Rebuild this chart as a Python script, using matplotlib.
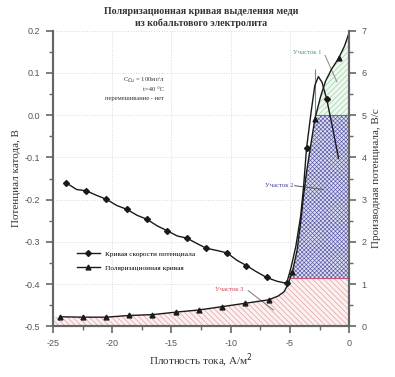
import matplotlib
matplotlib.use("Agg")
import matplotlib.pyplot as plt
import numpy as np
from matplotlib.lines import Line2D

plt.rcParams['font.family'] = ['Liberation Serif', 'DejaVu Serif']
plt.rcParams['hatch.linewidth'] = 0.45

# Поляризационная кривая (левая ось)
pol_x = [-24.4, -22.5, -20.5, -18.6, -16.6, -14.6, -12.7, -10.7, -8.75, -6.8,
         -6.0, -5.5, -5.2, -4.8, -4.4, -4.1, -3.85, -3.6, -3.36, -2.9,
         -2.4, -2.0, -1.5, -0.9, -0.4, 0.0]
pol_y = [-0.477, -0.478, -0.478, -0.474, -0.472, -0.466, -0.461, -0.453, -0.445, -0.437,
         -0.428, -0.418, -0.402, -0.372, -0.32, -0.255, -0.19, -0.135, -0.092, -0.01,
         0.045, 0.08, 0.108, 0.134, 0.163, 0.195]
pol_marks = [0, 1, 2, 3, 4, 5, 6, 7, 8, 9, 13, 19, 23]

# Кривая скорости потенциала (правая ось)
der_x = [-23.9, -23.0, -22.2, -21.3, -20.5, -19.6, -18.75, -17.9, -17.1, -16.2,
         -15.4, -14.5, -13.7, -12.9, -12.06, -11.2, -10.3, -9.5, -8.67, -7.8,
         -6.97, -6.1, -5.28, -4.9, -4.5, -4.1, -3.85, -3.6, -3.2, -2.9,
         -2.6, -2.3, -1.9, -1.4, -0.9]
der_y = [3.40, 3.24, 3.21, 3.10, 3.01, 2.86, 2.77, 2.63, 2.54, 2.38,
         2.27, 2.14, 2.09, 1.97, 1.85, 1.80, 1.74, 1.57, 1.44, 1.29,
         1.16, 1.07, 1.02, 1.40, 1.90, 2.60, 3.30, 4.21, 5.10, 5.70,
         5.91, 5.78, 5.38, 4.70, 3.98]
der_marks = [0, 2, 4, 6, 8, 10, 12, 14, 16, 18, 20, 22, 27, 32]

# границы участков
lvl3 = -0.385
lvl2 = 0.0

fig = plt.figure(figsize=(3.95, 3.77), dpi=100)
ax = fig.add_axes([0.134, 0.134, 0.750, 0.785])
ax2 = ax.twinx()

px = np.array([-25.0] + pol_x)
py = np.array([pol_y[0]] + pol_y)

# участок 3
ax.fill_between(px, -0.5, np.minimum(py, lvl3), facecolor='#fcf0f0',
                edgecolor='#dc9a9a', hatch='\\\\\\\\\\\\', linewidth=0, zorder=1)
# участок 2
ax.fill_between(px, lvl3, np.clip(py, lvl3, lvl2), facecolor='#dedef2',
                edgecolor='#5858a4', hatch='xxxxxxxx', linewidth=0, zorder=1)
# участок 1
ax.fill_between(px, lvl2, np.clip(py, lvl2, 0.2), facecolor='#eef8ee',
                edgecolor='#98d0a4', hatch='//////', linewidth=0, zorder=1)
ax.hlines(lvl3, -5.0, 0, color='#c85070', lw=0.8, zorder=2)
ax.hlines(lvl2, -2.9, 0, color='#3a8a6a', lw=0.8, zorder=2)
ax.vlines(-2.9, -0.01, 0.11, color='#5aa070', lw=0.8, zorder=2)

ax.plot(pol_x, pol_y, color='#1a1a1a', lw=1.0, marker='^', ms=3.5,
        markevery=pol_marks, zorder=4)
ax2.plot(der_x, der_y, color='#1a1a1a', lw=1.0, marker='D', ms=3,
         markevery=der_marks, zorder=4)

ax.set_xlim(-25, 0)
ax.set_ylim(-0.5, 0.2)
ax2.set_ylim(0, 7)
ax.set_xticks(np.arange(-25, 1, 5))
ax.set_xticks(np.arange(-25, 0, 2.5), minor=True)
ax.set_yticks(np.arange(-0.5, 0.21, 0.1))
ax.set_yticks(np.arange(-0.5, 0.2, 0.05), minor=True)
ax2.set_yticks(np.arange(0, 8, 1))
ax2.set_yticks(np.arange(0, 7, 0.5), minor=True)
ax.set_xticklabels(['-25', '-20', '-15', '-10', '-5', '0'])
ax.set_yticklabels(['-0.5', '-0.4', '-0.3', '-0.2', '-0.1', '0.0', '0.1', '0.2'])
ax.grid(True, which='major', color='#dadada', ls=':', lw=0.7)
ax.set_axisbelow(True)

for a in (ax, ax2):
    for s in a.spines.values():
        s.set_color('#666666')
        s.set_linewidth(1.5)
    a.spines['top'].set_visible(False)
    a.tick_params(which='major', length=5, width=1.2, color='#666666',
                  labelsize=6.5, labelcolor='#555555', pad=4)
    a.tick_params(which='minor', length=3, width=1.0, color='#666666')
    for lab in a.get_xticklabels() + a.get_yticklabels():
        lab.set_family('Liberation Sans')

ax.set_xlabel('Плотность тока, А/м$^2$', fontsize=8, color='#333333', labelpad=3)
ax.set_ylabel('Потенциал катода, В', fontsize=8, color='#333333', labelpad=3)
ax2.set_ylabel('Производная потенциала, В/с', fontsize=8, color='#333333', labelpad=4)
ax.set_title('Поляризационная кривая выделения меди\nиз кобальтового электролита',
             fontsize=7.2, fontweight='bold', color='#333333', pad=3, linespacing=1.35)

ax.text(-15.6, 0.083, 'C$_{Cu}$ = 100мг/л', fontsize=4.8, ha='right', va='center', color='#333333')
ax.text(-15.6, 0.061, 't=40 °C', fontsize=4.8, ha='right', va='center', color='#333333')
ax.text(-15.6, 0.040, 'перемешивание - нет', fontsize=4.8, ha='right', va='center', color='#333333')

ax.text(-4.75, 0.147, 'Участок 1', fontsize=4.8, color='#4a9a6a', va='center')
ax.plot([-2.03, -1.04], [0.141, 0.079], color='#888888', lw=0.7)
ax.text(-7.1, -0.167, 'Участок 2', fontsize=4.8, color='#4040a0', va='center')
ax.plot([-4.6, -2.18], [-0.167, -0.176], color='#555555', lw=0.7)
ax.text(-11.36, -0.412, 'Участок 3', fontsize=4.8, color='#d04050', va='center')
ax.plot([-8.53, -6.4], [-0.415, -0.461], color='#777777', lw=0.7)

handles = [Line2D([], [], color='#1a1a1a', lw=1.0, marker='D', ms=3),
           Line2D([], [], color='#1a1a1a', lw=1.0, marker='^', ms=3.5)]
ax.legend(handles, ['Кривая скорости потенциала', 'Поляризационная кривая'],
          loc='upper left', bbox_to_anchor=(0.07, 0.265), frameon=False,
          fontsize=5.2, handlelength=3.2, labelspacing=1.1, handletextpad=0.8,
          borderaxespad=0)

fig.savefig('out.png', dpi=100)
